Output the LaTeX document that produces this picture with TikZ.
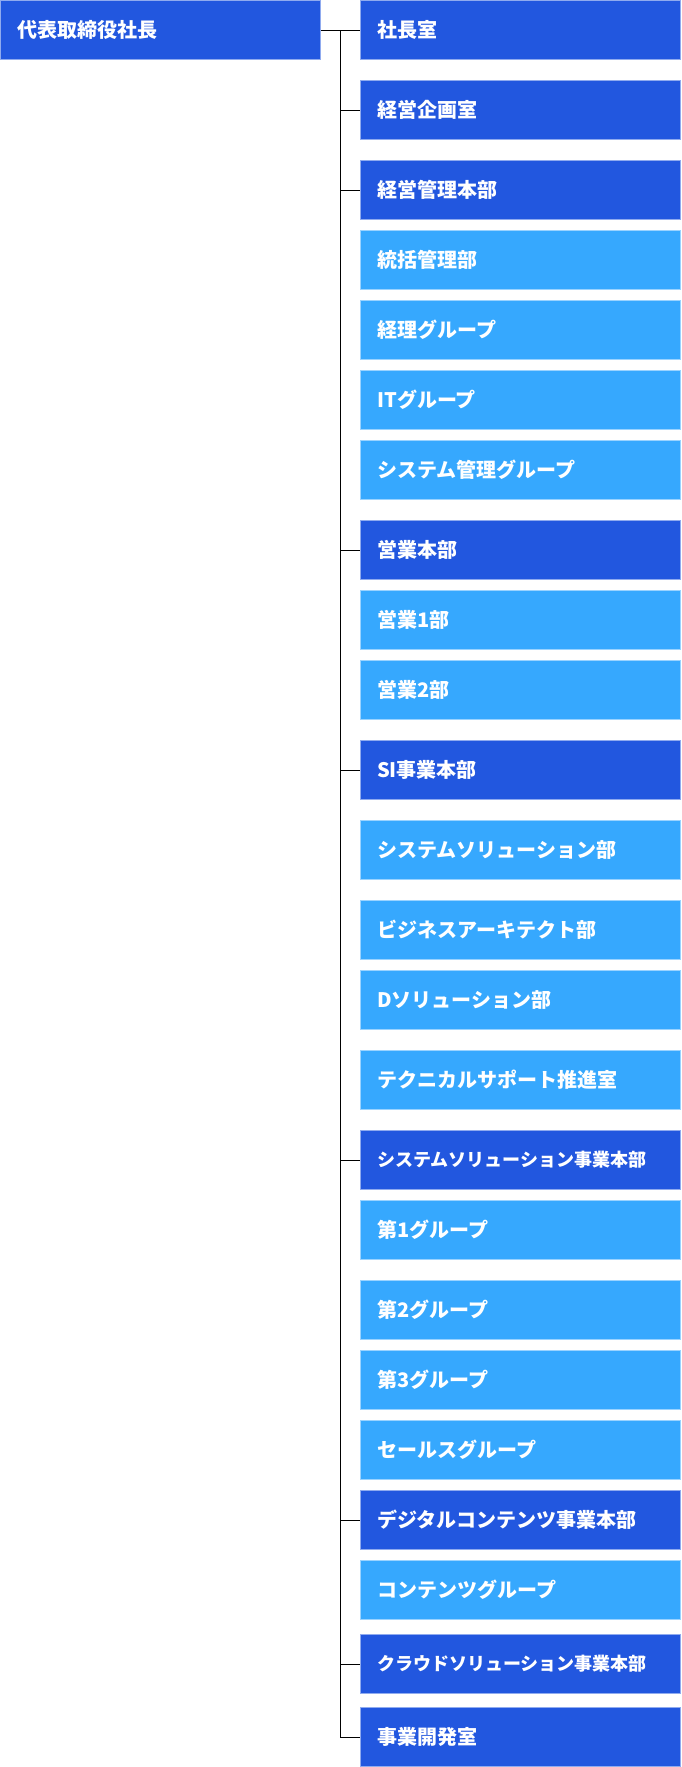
\documentclass[tikz,border=0pt]{standalone}
\usepackage{fontspec}
\setmainfont{Noto Sans CJK JP}
\usepackage{tikz}
\usetikzlibrary{positioning}
\definecolor{hqcolor}{RGB}{34, 87, 223}
\definecolor{unitcolor}{RGB}{54, 168, 254}

\begin{document}
\begin{tikzpicture}[
    x=1pt, y=1pt,
    box/.style={line width=0.8pt, minimum width=320pt, minimum height=59.2pt, inner xsep=17pt, inner ysep=0pt, text width=286pt, align=left, text=white, font=\bfseries\fontsize{20}{24}\selectfont},
    hq/.style={box, draw=hqcolor!50!white, fill=hqcolor},
    unit/.style={box, draw=unitcolor!50!white, fill=unitcolor},
    longname/.style={font=\bfseries\fontsize{18}{22}\selectfont},
    conn/.style={line width=1pt}
]
    \useasboundingbox (0,0) rectangle (681,-1767);

    % Top
    \node[hq, anchor=north west] (ceo) at (0,0) {代表取締役社長};
    \node[hq, right=39pt of ceo] (office) {社長室};
    \node[hq, below=20pt of office] (planning) {経営企画室};

    % Management
    \node[hq, below=20pt of planning] (admin) {経営管理本部};
    \node[unit, below=10pt of admin] (control) {統括管理部};
    \node[unit, below=10pt of control] (accounting) {経理グループ};
    \node[unit, below=10pt of accounting] (itgrp) {ITグループ};
    \node[unit, below=10pt of itgrp] (sysadmin) {システム管理グループ};

    % Sales
    \node[hq, below=20pt of sysadmin] (sales) {営業本部};
    \node[unit, below=10pt of sales] (salesone) {営業1部};
    \node[unit, below=10pt of salesone] (salestwo) {営業2部};

    % SI
    \node[hq, below=20pt of salestwo] (si) {SI事業本部};
    \node[unit, below=20pt of si] (syssol) {システムソリューション部};
    \node[unit, below=20pt of syssol] (bizarch) {ビジネスアーキテクト部};
    \node[unit, below=10pt of bizarch] (dsol) {Dソリューション部};
    \node[unit, below=20pt of dsol] (techsup) {テクニカルサポート推進室};

    % System solution
    \node[hq, longname, below=20pt of techsup] (sshq) {システムソリューション事業本部};
    \node[unit, below=10pt of sshq] (grpone) {第1グループ};
    \node[unit, below=20pt of grpone] (grptwo) {第2グループ};
    \node[unit, below=10pt of grptwo] (grpthree) {第3グループ};
    \node[unit, below=10pt of grpthree] (salesgrp) {セールスグループ};

    % Digital, cloud, new business
    \node[hq, below=10pt of salesgrp] (digital) {デジタルコンテンツ事業本部};
    \node[unit, below=10pt of digital] (contents) {コンテンツグループ};
    \node[hq, longname, below=14pt of contents] (cloud) {クラウドソリューション事業本部};
    \node[hq, below=13pt of cloud] (bizdev) {事業開発室};

    % Lines
    \coordinate[right=19.5pt of ceo.east] (spine);
    \draw[conn] (ceo) -- (office);
    \draw[conn] (spine) |- (planning.west);
    \draw[conn] (spine) |- (admin.west);
    \draw[conn] (spine) |- (sales.west);
    \draw[conn] (spine) |- (si.west);
    \draw[conn] (spine) |- (sshq.west);
    \draw[conn] (spine) |- (digital.west);
    \draw[conn] (spine) |- (cloud.west);
    \draw[conn] (spine) |- (bizdev.west);
\end{tikzpicture}
\end{document}
